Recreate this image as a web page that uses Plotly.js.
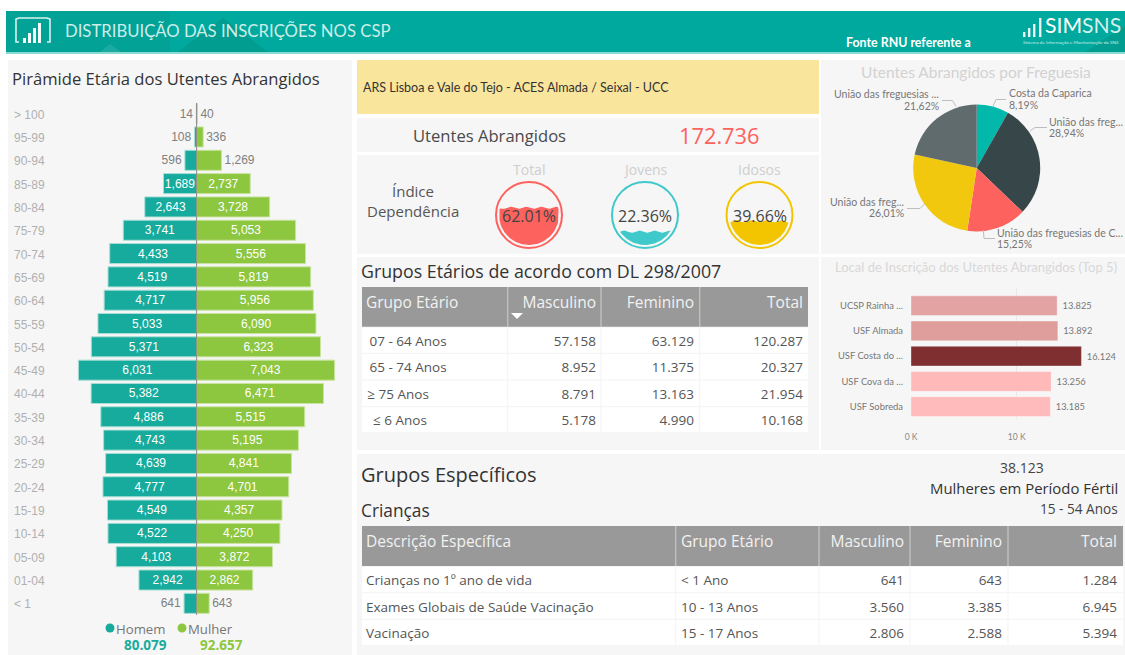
<!DOCTYPE html>
<html><head><meta charset="utf-8">
<script src="https://cdn.plot.ly/plotly-3.0.1.min.js"></script>
<style>html,body{margin:0;padding:0;background:#fff;overflow:hidden}#c{width:1125px;height:655px}</style>
</head><body><div id="c"></div>
<script>
// ---------- data ----------
const ageGroups = ['> 100','95-99','90-94','85-89','80-84','75-79','70-74','65-69','60-64','55-59','50-54','45-49','40-44','35-39','30-34','25-29','20-24','15-19','10-14','05-09','01-04','< 1'];
const menValues = [14,108,596,1689,2643,3741,4433,4519,4717,5033,5371,6031,5382,4886,4743,4639,4777,4549,4522,4103,2942,641];
const womenValues = [40,336,1269,2737,3728,5053,5556,5819,5956,6090,6323,7043,6471,5515,5195,4841,4701,4357,4250,3872,2862,643];
const pieValues = [8.19,28.94,15.25,26.01,21.62];
const pieNames = ['Costa da Caparica','União das freg...','União das freguesias de C...','União das freg...','União das freguesias ...'];
const pieColors = ['#01B8AA','#374649','#FD625E','#F2C80F','#5F6B6D'];
const unitNames = ['UCSP Rainha ...','USF Almada','USF Costa do ...','USF Cova da ...','USF Sobreda'];
const unitValues = [13825,13892,16124,13256,13185];
const unitLabels = ['13.825','13.892','16.124','13.256','13.185'];
const unitColors = ['#E3A3A3','#DF9E9C','#7F2F2F','#FFB9B9','#FFBBBB'];
const gaugeNames = ['Total','Jovens','Idosos'];
const gaugeValues = [62.01,22.36,39.66];
const gaugeColors = ['#FD625E','#3FC9CB','#F2C500'];
const t1Head = ['Grupo Etário','Masculino','Feminino','Total'];
const t1Groups = ['\u00A007 - 64 Anos','\u00A065 - 74 Anos','\u200A≥ 75 Anos','\u00A0\u00A0≤ 6 Anos'];
const t1Men = ['57.158','8.952','8.791','5.178'];
const t1Women = ['63.129','11.375','13.163','4.990'];
const t1Total = ['120.287','20.327','21.954','10.168'];
const t2Head = ['Descrição Específica','Grupo Etário','Masculino','Feminino','Total'];
const t2Desc = ['Crianças no 1º ano de vida','Exames Globais de Saúde Vacinação','Vacinação'];
const t2Group = ['< 1 Ano','10 - 13 Anos','15 - 17 Anos'];
const t2Men = ['641','3.560','2.806'];
const t2Women = ['643','3.385','2.588'];
const t2Total = ['1.284','6.945','5.394'];

// ---------- helpers ----------
const W=1125,H=655;
const px=x=>x/W, py=y=>1-y/H;
const SEGOE='"Open Sans",sans-serif', DIN='Lato,sans-serif', ARIAL='"Liberation Sans",Arial,sans-serif';
const annotations=[], shapes=[];
function T(text,x,y,size,color,anchor,font){annotations.push({text,x:px(x),y:py(y),xref:'paper',yref:'paper',xanchor:anchor||'left',yanchor:'middle',showarrow:false,font:{size,color,family:font||SEGOE},borderpad:0,borderwidth:0});}
function R(x0,y0,x1,y1,fill,layer){shapes.push({type:'rect',xref:'paper',yref:'paper',x0:px(x0),x1:px(x1),y0:py(y0),y1:py(y1),fillcolor:fill,line:{width:0},layer:layer||'below'});}
function L(x0,y0,x1,y1,color,w){shapes.push({type:'line',xref:'paper',yref:'paper',x0:px(x0),x1:px(x1),y0:py(y0),y1:py(y1),line:{width:w||1,color},layer:'below'});}
function P(pts,opts){const d=pts.map((p,i)=>(i?'L':'M')+px(p[0])+','+py(p[1])).join(' ')+(opts.close?' Z':'');
  shapes.push({type:'path',xref:'paper',yref:'paper',path:d,fillcolor:opts.fill||'rgba(0,0,0,0)',line:{width:opts.w||0,color:opts.color||'rgba(0,0,0,0)'},layer:opts.layer||'above'});}

// panels
const PANEL='#F6F6F6';
R(6,11,1125,52,'#00A99D');
R(6,52,1125,54,'#8ADAD2');
R(6,11,170,52,'rgba(30,110,90,0.10)');
P([[178,52],[223,18],[268,52]],{fill:'rgba(0,70,60,0.12)',close:true,layer:'below'});
P([[100,52],[110,44],[121,52]],{fill:'rgba(255,255,255,0.10)',close:true,layer:'below'});
P([[1085,52],[1125,26],[1125,52]],{fill:'rgba(0,70,60,0.12)',close:true,layer:'below'});
R(8,60,352,655,PANEL);
R(357,60,819,114,'#FAE59C');
R(357,118,819,152,PANEL);
R(357,155,819,254,PANEL);
R(357,257,819,450,PANEL);
R(821,60,1125,254,PANEL);
R(821,257,1125,450,PANEL);
R(357,454,1125,655,PANEL);

// table backgrounds and rules
function tableFrame(x0,x1,top,headBottom,rowLines,bottom,vlines){
  R(x0,top,x1,headBottom,'#999999');
  R(x0,headBottom+1,x1,bottom,'#FFFFFF');
  rowLines.forEach(y=>L(x0,y,x1,y,'#F3F3F3',1));
  vlines.forEach(x=>{L(x,top,x,headBottom,'#C6C6C6',1.2);L(x,headBottom+1,x,bottom,'#F3F3F3',1);});
}
tableFrame(362,808,287,326.7,[353.3,380,406.7],432,[507.7,601,699.7]);
tableFrame(362,1123,526,566,[592.7,619.3],645,[675.7,819,910,1008]);

// header content
P([[19,42],[16,42],[16,19],[19,18],[47,18],[50,19],[50,42],[47,42]],{color:'#D8F2EE',w:1.6});
[[24,5],[29,10],[34,15],[39,20]].forEach(b=>R(b[0]-1,43-b[1],b[0]+2,43,'#F4FBFA','above'));
T('DISTRIBUIÇÃO DAS INSCRIÇÕES NOS CSP',65,31,16.7,'#CDEDE9','left',DIN);
T('<b>Fonte RNU referente a</b>',846,42.5,12.4,'#FFFFFF','left',DIN);
[[1023,32],[1028,28],[1033,24],[1039,18]].forEach(b=>R(b[0],b[1],b[0]+2.4,37,'#EAF8F6','above'));
T('SIM<span style="color:#D5F0EC">SNS</span>',1045,25,21.2,'#FFFFFF','left',DIN);
T('Sistema de Informação e Monitorização do SNS',1023,42,4.6,'#CDEDE9','left',DIN);

// titles and text
T('Pirâmide Etária dos Utentes Abrangidos',12,78.5,16.6,'#333333');
T('ARS Lisboa e Vale do Tejo - ACES Almada / Seixal - UCC',363,87,12.5,'#333333','left',DIN);
T('Utentes Abrangidos',489,135.5,16.6,'#4A4A4A','center');
T('172.736',719,135.5,21.8,'#FD625E','center');
T('Índice',413,191,15,'#555555','center');
T('Dependência',413,211,15,'#555555','center');
T('Grupos Etários de acordo com DL 298/2007',361,271,17.8,'#333333');
T('Grupos Específicos',361,474,20,'#333333');
T('Crianças',361,510,17.3,'#333333');
T('38.123',1022,468,14,'#444444','center');
T('Mulheres em Período Fértil',1118,488,14.9,'#333333','right');
T('15 - 54 Anos',1118,508,13.6,'#444444','right');
T('Utentes Abrangidos por Freguesia',976,72,15.5,'#D2D2D2','center',DIN);
T('Local de Inscrição dos Utentes Abrangidos (Top 5)',976,267,13,'#D8D8D8','center',DIN);

// pyramid age labels + legend
ageGroups.forEach(a=>annotations.push({text:a,x:px(11.5),y:a,xref:'paper',yref:'y',xanchor:'left',yanchor:'middle',yshift:-1,showarrow:false,font:{size:12,color:'#B0B0B0',family:ARIAL}}));
const dot=(cx,cy,r,fill)=>shapes.push({type:'circle',xref:'paper',yref:'paper',x0:px(cx-r),x1:px(cx+r),y0:py(cy+r),y1:py(cy-r),fillcolor:fill,line:{width:0}});
dot(110,628,4.5,'#16AB9C'); dot(182,628,4.5,'#8DC63F');
T('Homem',116,628.5,13.2,'#777777');
T('Mulher',188,628.5,13.2,'#777777');
[['<b>80.079</b>',145,'#16AB9C'],['<b>92.657</b>',221,'#8DC63F']].forEach(t=>annotations.push({text:t[0],x:px(t[1]),y:py(655),xref:'paper',yref:'paper',xanchor:'center',yanchor:'bottom',showarrow:false,font:{size:13.5,color:t[2],family:SEGOE},borderpad:0}));

// pie leaders and labels
const leaders=[[[993,106],[996,99.5],[1006,99.5]],[[1030,131],[1035,127.5],[1047,127.5]],[[983.3,230],[984,238.5],[995,238.5]],[[925,203.5],[920,208.5],[907,208.5]],[[956,106.5],[952.5,100.5],[942,100.5]]];
leaders.forEach(l=>P(l,{color:'#BDBDBD',w:1}));
const fmtPct=v=>v.toFixed(2).replace('.',',')+'%';
[[1009,93,105,'left'],[1049,122,132.5,'left'],[997,232.5,244,'left'],[904,202,213,'right'],[939,94.5,106,'right']].forEach((p,i)=>{
  T(pieNames[i],p[0],p[1],10.5,'#777777',p[3],DIN);
  T(fmtPct(pieValues[i]),p[0],p[2],10.5,'#777777',p[3],DIN);
});

// gauges
const gx=[529,645,759.5], gy=215, outer=33, inner=30;
const gaugeTraces=gaugeValues.map((v,i)=>{
  const cx=gx[i], level=gy+inner-2*inner*v/100, top=[], bot=[];
  for(let x=cx-inner;x<=cx+inner+0.01;x+=0.5){
    const dx=x-cx, h=Math.sqrt(Math.max(0,inner*inner-dx*dx));
    const w=level+1.2*Math.sin(dx*0.42+i);
    const yTop=Math.max(w,gy-h), yBot=gy+h;
    if(yTop<yBot){top.push([x,yTop]);bot.unshift([x,yBot]);}
  }
  const poly=top.concat(bot);
  shapes.push({type:'circle',xref:'paper',yref:'paper',x0:px(cx-outer),x1:px(cx+outer),y0:py(gy+outer),y1:py(gy-outer),fillcolor:'rgba(0,0,0,0)',line:{width:2,color:gaugeColors[i]},layer:'below'});
  T(gaugeNames[i],cx,169.5,14,'#CFCFCF','center');
  T(v.toFixed(2)+'%',cx,216,16,'#444444','center');
  return {type:'scatter',mode:'lines',x:poly.map(p=>p[0]),y:poly.map(p=>p[1]),fill:'toself',fillcolor:gaugeColors[i],line:{width:0},xaxis:'x3',yaxis:'y3',hoverinfo:'skip',showlegend:false};
});

// sort marker
P([[511,313],[523,313],[517,319]],{fill:'#FFFFFF',close:true});

// the "<" cell would stretch its table row, so it is placed as a text of its own
const cellFontSize=13.5;
const t2GroupCells=t2Group.map(s=>s.startsWith('<')?'\u00A0':s);
t2Group.forEach((s,i)=>{ if(s.startsWith('<')) T(s.replace('<','&lt;'),681,580,cellFontSize,'#555555'); });

// ---------- traces ----------
const fmt=v=>v.toLocaleString('en-US');
const inside=v=>v>=1500;
const barTrace=(vals,sign,color,edge)=>({type:'bar',orientation:'h',y:ageGroups,x:vals.map(v=>sign*v),
  marker:{color,line:{width:1,color:edge}},text:vals.map(fmt),textposition:vals.map(v=>inside(v)?'inside':'outside'),insidetextanchor:'middle',
  textangle:0,constraintext:'none',cliponaxis:false,
  textfont:{size:12,family:ARIAL,color:vals.map(v=>inside(v)?'#FFFFFF':'#808080')},xaxis:'x',yaxis:'y',hoverinfo:'skip',showlegend:false});

const noLine={color:'rgba(0,0,0,0)',width:0}, noFill={color:'rgba(0,0,0,0)'};
const headFont={size:15.5,color:'#F2F2F2',family:SEGOE}, cellFont={size:cellFontSize,color:'#555555',family:SEGOE};

const traces=[
  barTrace(menValues,-1,'#16AB9C','#A9DDD6'),
  barTrace(womenValues,1,'#8DC63F','#C9E4A0'),
  {type:'bar',orientation:'h',y:unitNames,x:unitValues,width:0.78,marker:{color:unitColors,line:{width:1,color:'rgba(255,255,255,0.35)'}},text:unitLabels.map(l=>'\u00A0'+l),textposition:'outside',
   textfont:{size:9.3,color:'#777777',family:DIN},cliponaxis:false,xaxis:'x2',yaxis:'y2',hoverinfo:'skip',showlegend:false},
  {type:'pie',values:pieValues,marker:{colors:pieColors,line:{width:0}},sort:false,direction:'clockwise',rotation:0,
   textinfo:'none',hoverinfo:'skip',showlegend:false,domain:{x:[px(976.7-63.5),px(976.7+63.5)],y:[py(168+63.5),py(168-63.5)]}},
  ...gaugeTraces,
  {type:'table',domain:{x:[px(358),px(811)],y:[py(445),py(288.5)]},columnwidth:[149,97,98,109],
    header:{values:t1Head,align:['left','right','right','right'],height:39,fill:noFill,line:noLine,font:headFont},
    cells:{values:[t1Groups,t1Men,t1Women,t1Total],align:['left','right','right','right'],height:26.5,fill:noFill,line:noLine,font:cellFont}},
  {type:'table',domain:{x:[px(358),px(1125)],y:[py(655),py(527)]},columnwidth:[315,147,92,98,115],
    header:{values:t2Head,align:['left','left','right','right','right'],height:40,fill:noFill,line:noLine,font:headFont},
    cells:{values:[t2Desc,t2GroupCells,t2Men,t2Women,t2Total],align:['left','left','right','right','right'],height:26.5,fill:noFill,line:noLine,font:cellFont}}
];

// centre line of pyramid drawn on its own axes
const PYR=0.0196;
shapes.push({type:'line',xref:'x',yref:'paper',x0:0,x1:0,y0:py(615),y1:py(103),line:{width:1,color:'#8A8A8A'},layer:'above'});

const layout={
  width:W,height:H,margin:{l:0,r:0,t:0,b:0,pad:0},paper_bgcolor:'#FFFFFF',plot_bgcolor:'rgba(0,0,0,0)',
  barmode:'overlay',bargap:0.14,hovermode:false,showlegend:false,
  xaxis:{domain:[px(8),px(352)],range:[-(196.6-8)/PYR,(352-196.6)/PYR],visible:false,fixedrange:true},
  yaxis:{domain:[py(615),py(102)],type:'category',categoryorder:'array',categoryarray:ageGroups,autorange:false,range:[21.5,-0.5],visible:false,fixedrange:true},
  xaxis2:{domain:[px(911),px(1122)],range:[0,(1122-911)/0.01057],anchor:'y2',tickvals:[0,10000],ticktext:['0 K','10 K'],ticks:'',showline:false,zeroline:false,showgrid:true,gridcolor:'#E8E8E8',tickfont:{size:8.5,color:'#888888',family:DIN},ticklabelstandoff:11,side:'bottom',fixedrange:true},
  yaxis2:{domain:[py(419),py(288)],type:'category',categoryorder:'array',categoryarray:unitNames,autorange:false,range:[4.49,-0.7],anchor:'x2',ticks:'',showline:false,showgrid:false,zeroline:false,tickfont:{size:9.4,color:'#777777',family:DIN},ticklabelstandoff:7,fixedrange:true},
  xaxis3:{domain:[0,1],range:[0,W],visible:false,fixedrange:true,anchor:'y3'},
  yaxis3:{domain:[0,1],range:[H,0],visible:false,fixedrange:true,anchor:'x3'},
  shapes,annotations
};
Plotly.newPlot('c',traces,layout,{displayModeBar:false,staticPlot:true,responsive:false});
</script></body></html>
